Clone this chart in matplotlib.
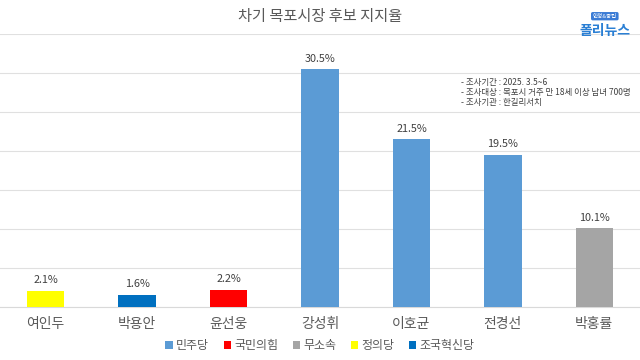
import matplotlib
matplotlib.use("Agg")
import matplotlib.pyplot as plt
from matplotlib.patches import Patch

plt.rcParams['font.family'] = ['Noto Sans CJK KR', 'DejaVu Sans']

# data
candidates = ['여인두', '박용안', '윤선웅', '강성휘', '이호균', '전경선', '박홍률']
support = [2.1, 1.6, 2.2, 30.5, 21.5, 19.5, 10.1]
parties = ['정의당', '조국혁신당', '국민의힘', '민주당', '민주당', '민주당', '무소속']
party_order = ['민주당', '국민의힘', '무소속', '정의당', '조국혁신당']
party_colors = {'민주당': '#5B9BD5', '국민의힘': '#FF0000', '무소속': '#A5A5A5',
                '정의당': '#FFFF00', '조국혁신당': '#0070C0'}
survey_notes = ['- 조사기간 : 2025. 3.5~6',
                '- 조사대상 : 목포시 거주 만 18세 이상 남녀 700명',
                '- 조사기관 : 한길리서치']

fig = plt.figure(figsize=(6.4, 3.6), dpi=100)
ax = fig.add_axes([0, 0.147, 1, 0.759])

x = range(len(candidates))
bars = ax.bar(x, support, width=0.41, color=[party_colors[p] for p in parties], zorder=3)
for b, v in zip(bars, support):
    ax.text(b.get_x() + b.get_width() / 2, v + 0.7, f'{v}%', ha='center', va='bottom',
            fontsize=7.8, color='#404040')

ax.set_xlim(-0.5, len(candidates) - 0.5)
ax.set_ylim(0, 35)
ax.set_yticks(range(0, 36, 5))
ax.yaxis.grid(True, color='#E0E0E0', linewidth=0.8, zorder=0)
ax.set_xticks(list(x))
ax.set_xticklabels(candidates, fontsize=10, color='#595959')
ax.tick_params(axis='x', length=0, pad=7)
ax.tick_params(axis='y', left=False, labelleft=False)
for s in ['top', 'right', 'left']:
    ax.spines[s].set_visible(False)
ax.spines['bottom'].set_color('#D9D9D9')

fig.text(0.5, 0.953, '차기 목포시장 후보 지지율', ha='center', va='center',
         fontsize=11, color='#595959')

for i, line in enumerate(survey_notes):
    fig.text(0.72, 0.77 - i * 0.028, line, fontsize=6.1, color='#404040', va='center')

# logo
fig.text(0.945, 0.915, '폴리뉴스', ha='center', va='center', fontsize=10,
         fontweight='bold', color='#2A7FD4')
fig.text(0.945, 0.955, '안정&중립', ha='center', va='center', fontsize=4,
         color='white', bbox=dict(boxstyle='round,pad=0.3', fc='#3A7BD5', ec='none'))

handles = [Patch(facecolor=party_colors[p], label=p) for p in party_order]
fig.legend(handles=handles, loc='center', bbox_to_anchor=(0.5, 0.04), ncol=5,
           frameon=False, fontsize=8.6, handlelength=0.6, handleheight=0.6,
           handletextpad=0.3, columnspacing=1.2, labelcolor='#595959')

fig.savefig('out.png', dpi=100, facecolor='white')
